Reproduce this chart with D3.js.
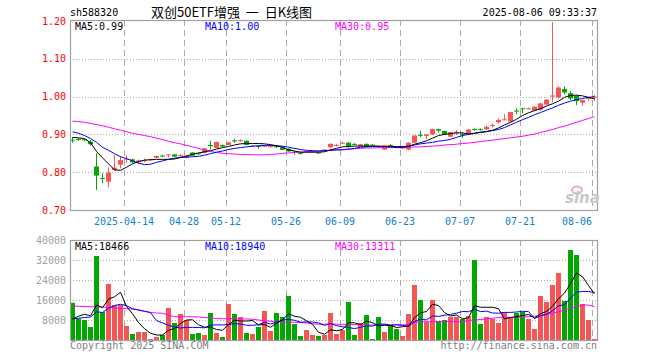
<!DOCTYPE html>
<html>
<head>
<meta charset="utf-8">
<script src="https://cdn.jsdelivr.net/npm/d3@7"></script>
<style>
  body { margin: 0; background: #fff; }
  text { font-family: "DejaVu Sans Mono", monospace; font-size: 10px; }
</style>
</head>
<body>
<div id="kline"></div>
<script>
// trading days shown (88 bars)
const dates = [
  '2025-03-31','2025-04-01','2025-04-02','2025-04-03','2025-04-07','2025-04-08','2025-04-09','2025-04-10','2025-04-11',
  '2025-04-14','2025-04-15','2025-04-16','2025-04-17','2025-04-18','2025-04-21','2025-04-22','2025-04-23','2025-04-24','2025-04-25',
  '2025-04-28','2025-04-29','2025-04-30','2025-05-06','2025-05-07','2025-05-08','2025-05-09',
  '2025-05-12','2025-05-13','2025-05-14','2025-05-15','2025-05-16','2025-05-19','2025-05-20','2025-05-21','2025-05-22','2025-05-23',
  '2025-05-26','2025-05-27','2025-05-28','2025-05-29','2025-05-30','2025-06-03','2025-06-04','2025-06-05','2025-06-06',
  '2025-06-09','2025-06-10','2025-06-11','2025-06-12','2025-06-13','2025-06-16','2025-06-17','2025-06-18','2025-06-19','2025-06-20',
  '2025-06-23','2025-06-24','2025-06-25','2025-06-26','2025-06-27','2025-06-30','2025-07-01','2025-07-02','2025-07-03','2025-07-04',
  '2025-07-07','2025-07-08','2025-07-09','2025-07-10','2025-07-11','2025-07-14','2025-07-15','2025-07-16','2025-07-17','2025-07-18',
  '2025-07-21','2025-07-22','2025-07-23','2025-07-24','2025-07-25','2025-07-28','2025-07-29','2025-07-30','2025-07-31',
  '2025-08-01','2025-08-04','2025-08-05','2025-08-06'
];
const open = [
  0.886,0.888,0.887,0.881,0.815,0.785,0.775,0.806,0.820,
  0.833,0.834,0.827,0.831,0.832,0.838,0.844,0.846,0.847,0.844,
  0.838,0.852,0.850,0.851,0.872,0.864,0.872,
  0.872,0.884,0.884,0.883,0.869,0.869,0.869,0.867,0.869,0.866,
  0.862,0.854,0.851,0.853,0.854,0.852,0.856,0.866,0.871,
  0.877,0.878,0.875,0.869,0.875,0.873,0.869,0.860,0.872,0.867,
  0.863,0.860,0.878,0.899,0.896,0.900,0.914,0.909,0.894,0.906,
  0.901,0.900,0.914,0.914,0.913,0.924,0.932,0.939,0.934,0.963,
  0.969,0.968,0.963,0.965,0.979,1.000,0.998,1.020,1.009,
  1.002,0.984,0.996,0.999
];
const close = [
  0.884,0.887,0.886,0.874,0.791,0.784,0.799,0.812,0.832,
  0.836,0.826,0.831,0.832,0.834,0.843,0.843,0.847,0.841,0.845,
  0.843,0.844,0.849,0.863,0.869,0.880,0.868,
  0.879,0.883,0.885,0.872,0.870,0.868,0.870,0.869,0.868,0.859,
  0.855,0.853,0.850,0.856,0.855,0.851,0.860,0.875,0.872,
  0.878,0.868,0.874,0.874,0.868,0.872,0.868,0.871,0.871,0.866,
  0.866,0.878,0.897,0.898,0.900,0.914,0.910,0.900,0.906,0.907,
  0.899,0.913,0.913,0.913,0.920,0.925,0.938,0.940,0.959,0.962,
  0.968,0.969,0.973,0.982,0.992,1.003,1.024,1.011,0.995,
  0.988,0.991,0.997,1.000
];
const high = [
  0.892,0.890,0.889,0.885,0.850,0.797,0.813,0.845,0.841,
  0.845,0.836,0.833,0.836,0.836,0.844,0.846,0.848,0.848,0.848,
  0.844,0.853,0.852,0.864,0.883,0.881,0.874,
  0.880,0.888,0.887,0.884,0.872,0.872,0.872,0.870,0.871,0.867,
  0.863,0.857,0.853,0.857,0.857,0.854,0.861,0.876,0.875,
  0.880,0.880,0.877,0.875,0.876,0.874,0.871,0.872,0.875,0.869,
  0.867,0.879,0.898,0.910,0.901,0.915,0.915,0.910,0.907,0.911,
  0.905,0.914,0.916,0.916,0.924,0.929,0.942,0.953,0.960,0.969,
  0.971,0.971,0.975,0.984,0.993,1.197,1.027,1.027,1.015,
  1.003,0.992,0.998,1.004
];
const low = [
  0.878,0.883,0.882,0.870,0.753,0.771,0.760,0.804,0.810,
  0.825,0.824,0.821,0.826,0.830,0.837,0.840,0.839,0.840,0.841,
  0.836,0.843,0.846,0.850,0.860,0.863,0.866,
  0.871,0.878,0.881,0.871,0.867,0.862,0.867,0.865,0.864,0.858,
  0.854,0.846,0.847,0.852,0.852,0.849,0.855,0.864,0.868,
  0.875,0.863,0.871,0.868,0.867,0.870,0.864,0.859,0.869,0.865,
  0.862,0.858,0.877,0.892,0.888,0.899,0.905,0.899,0.893,0.899,
  0.891,0.899,0.910,0.910,0.912,0.919,0.929,0.939,0.933,0.953,
  0.956,0.967,0.961,0.963,0.978,0.985,0.995,1.006,0.991,
  0.978,0.976,0.988,0.989
];
const volume = [
  14900,8500,8000,5200,33600,11200,22400,14000,14000,
  5600,2400,3200,3200,400,1200,2000,12800,6800,10400,
  8000,2400,2800,2000,10800,2800,1200,
  14400,10400,9200,2800,2400,5200,11600,3600,10800,9200,
  17600,6400,1600,4000,2000,1600,2000,10800,2400,
  4000,15200,2000,6800,10000,400,9200,3200,6000,4400,
  1600,10400,22000,16000,7200,16000,7600,8000,9200,9200,
  8400,9600,32000,6400,9200,8400,6800,11200,9200,10800,
  11200,8400,4400,17600,15200,22000,26800,15600,36000,
  34000,14400,8000,400
];
// moving averages as drawn on the chart
const ma5 = [
  0.892,0.891,0.889,0.878,0.855,0.838,0.822,0.806,0.805,
  0.813,0.822,0.828,0.832,0.833,0.834,0.834,0.834,0.835,0.839,
  0.843,0.847,0.851,0.854,0.857,0.861,0.865,
  0.868,0.872,0.875,0.876,0.876,0.876,0.875,0.873,0.870,0.866,
  0.859,0.856,0.853,0.853,0.853,0.853,0.854,0.859,0.863,
  0.867,0.868,0.869,0.869,0.869,0.869,0.869,0.868,0.867,0.866,
  0.866,0.868,0.874,0.878,0.883,0.890,0.897,0.900,0.902,0.904,
  0.904,0.901,0.903,0.905,0.907,0.911,0.917,0.925,0.932,0.940,
  0.950,0.957,0.963,0.968,0.975,0.981,0.988,0.998,1.003,
  1.004,1.002,0.998,0.994
];
const ma10 = [
  0.907,0.903,0.897,0.889,0.879,0.866,0.858,0.849,0.841,
  0.836,0.830,0.824,0.820,0.821,0.826,0.830,0.834,0.837,0.839,
  0.840,0.841,0.842,0.845,0.849,0.853,0.856,
  0.860,0.863,0.865,0.867,0.869,0.870,0.871,0.871,0.870,0.869,
  0.866,0.863,0.860,0.858,0.857,0.856,0.857,0.858,0.859,
  0.859,0.861,0.863,0.866,0.867,0.868,0.868,0.868,0.868,0.868,
  0.868,0.869,0.872,0.875,0.877,0.879,0.882,0.884,0.887,0.892,
  0.897,0.900,0.903,0.906,0.908,0.910,0.913,0.918,0.925,0.932,
  0.939,0.945,0.952,0.958,0.964,0.970,0.977,0.983,0.988,
  0.992,0.995,0.998,1.000
];
const ma30 = [
  0.935,0.934,0.932,0.929,0.926,0.923,0.919,0.915,0.911,
  0.907,0.903,0.900,0.897,0.894,0.890,0.886,0.882,0.878,0.875,
  0.871,0.867,0.863,0.859,0.855,0.852,0.850,
  0.849,0.848,0.847,0.847,0.846,0.846,0.846,0.847,0.848,0.850,
  0.851,0.852,0.853,0.854,0.855,0.856,0.857,0.858,0.859,
  0.860,0.861,0.862,0.863,0.864,0.864,0.865,0.865,0.865,0.865,
  0.865,0.866,0.867,0.867,0.868,0.869,0.870,0.872,0.873,0.874,
  0.876,0.877,0.879,0.881,0.883,0.885,0.887,0.889,0.891,0.893,
  0.895,0.898,0.901,0.905,0.909,0.913,0.918,0.922,0.927,
  0.932,0.937,0.942,0.947
];
const vma5 = [
  8400,9500,10300,9700,14000,12900,16400,17300,19100,
  13400,10500,7000,4500,2700,2000,2000,3900,4600,6600,
  8000,8100,6100,5100,5200,4200,3900,
  6200,7900,7600,7600,7800,6000,6200,5100,6700,8100,
  10500,9500,9100,7700,6300,3100,2300,4100,3700,
  4200,6900,6900,6100,7600,6900,5700,5900,5800,5000,
  5300,5600,8900,10900,11400,14300,13800,11000,9600,10000,
  8500,8900,13700,13100,13100,13100,12500,8400,9000,9300,
  9800,10200,8800,10500,11400,13500,16500,18800,22500,
  26800,25300,21800,18466
];
const vma10 = [
  8400,8700,9000,9200,11300,11000,12700,13800,14300,
  13740,12490,11960,11480,11000,7760,6840,5880,5160,4800,
  5040,5040,5000,4880,5920,6080,6000,
  6160,6520,6400,5880,5880,6120,7080,6360,7160,7960,
  8280,7880,7120,7240,7200,6840,5880,6600,5760,
  5240,5000,4560,5080,5680,5520,6280,6400,5920,6120,
  5880,5400,7400,8320,8040,9600,9440,9920,10240,10720,
  11400,11320,12320,11360,11560,10800,10720,11040,11040,11200,
  11480,11360,8600,9720,10320,11680,13680,14120,16800,
  19120,19440,19400,18940
];
const vma30 = [
  13600,13500,13400,13300,13300,13200,13100,12900,12700,
  12500,12400,12100,11500,11000,10800,10700,10000,9300,9300,
  9300,9300,9200,9000,8800,8600,8500,
  8500,8500,8450,8400,8300,8000,7700,7500,7400,7200,
  7100,7100,7000,6800,6500,6300,6300,6400,6300,
  6300,6300,6200,6100,6000,6000,6000,6000,6000,6000,
  6000,6270,7100,7200,7330,7330,7330,7330,7330,7330,
  7330,7800,8000,8200,8400,8700,9000,9070,9070,9070,
  9200,9330,9500,9700,10200,10670,11330,12000,12700,
  13330,14000,14000,13311
];

const tickDates = ['2025-04-14','2025-04-28','2025-05-12','2025-05-26','2025-06-09','2025-06-23','2025-07-07','2025-07-21','2025-08-06'];
const tickLabels = ['2025-04-14','04-28','05-12','05-26','06-09','06-23','07-07','07-21','08-06'];
const priceTicks = [0.70, 0.80, 0.90, 1.00, 1.10, 1.20];
const volTicks = [8000, 16000, 24000, 32000, 40000];

const RED = '#f55555', GREEN = '#00a800', GRID = '#aaaaaa', BORDER = '#a0a0a0';

const svg = d3.select('#kline')
  .append('svg')
    .attr('width', 660)
    .attr('height', 360);

const left = 70, right = 598;
const pTop = 20, pBottom = 210;
const vTop = 240, vBottom = 340;

const x = d3.scaleBand()
  .domain(dates)
  .range([left, right]);
const bw = x.bandwidth();

const y = d3.scaleLinear()
  .domain([0.70, 1.20])
  .range([pBottom, pTop + 1]);

const yv = d3.scaleLinear()
  .domain([0, 40000])
  .range([vBottom, vTop]);

const cx = d => x(d) + (bw - 1) / 2;

// ---- grids ----
svg.append('g').selectAll('line')
  .data(priceTicks.filter(t => t > 0.7 && t < 1.2))
  .enter().append('line')
    .attr('x1', left).attr('x2', right)
    .attr('y1', d => Math.round(y(d)) + 0.5).attr('y2', d => Math.round(y(d)) + 0.5)
    .attr('stroke', GRID).attr('stroke-dasharray', '1,2');

svg.append('g').selectAll('line')
  .data(volTicks.filter(t => t < 40000))
  .enter().append('line')
    .attr('x1', left).attr('x2', right)
    .attr('y1', d => Math.round(yv(d)) + 0.5).attr('y2', d => Math.round(yv(d)) + 0.5)
    .attr('stroke', GRID).attr('stroke-dasharray', '1,2');

[[pTop, pBottom], [vTop, vBottom]].forEach(([t, b]) => {
  svg.append('g').selectAll('line')
    .data(tickDates)
    .enter().append('line')
      .attr('x1', d => x(d) + 0.5).attr('x2', d => x(d) + 0.5)
      .attr('y1', t).attr('y2', b)
      .attr('stroke', GRID).attr('stroke-dasharray', '6,4');
});

// ---- axis labels ----
svg.append('g').selectAll('text')
  .data(priceTicks)
  .enter().append('text')
    .attr('x', left - 4)
    .attr('y', d => y(d))
    .attr('dy', '0.35em')
    .attr('text-anchor', 'end')
    .attr('fill', '#ff0000')
    .text(d => d.toFixed(2));

svg.append('g').selectAll('text')
  .data(volTicks)
  .enter().append('text')
    .attr('x', left - 4)
    .attr('y', d => yv(d))
    .attr('dy', '0.35em')
    .attr('text-anchor', 'end')
    .attr('fill', '#a0a0a0')
    .text(d => d);

svg.append('g').selectAll('text')
  .data(tickDates)
  .enter().append('text')
    .attr('x', d => x(d))
    .attr('y', 225)
    .attr('text-anchor', (d, i) => i === tickDates.length - 1 ? 'end' : 'middle')
    .attr('fill', '#1080d0')
    .text((d, i) => tickLabels[i]);

// ---- volume bars ----
svg.append('g').selectAll('rect')
  .data(dates)
  .enter().append('rect')
    .attr('x', d => x(d))
    .attr('width', bw - 1)
    .attr('y', (d, i) => yv(volume[i]))
    .attr('height', (d, i) => vBottom - yv(volume[i]))
    .attr('fill', (d, i) => close[i] >= open[i] ? RED : GREEN);

// ---- candles ----
const candles = svg.append('g');
candles.selectAll('line')
  .data(dates)
  .enter().append('line')
    .attr('x1', cx).attr('x2', cx)
    .attr('y1', (d, i) => y(high[i]))
    .attr('y2', (d, i) => y(low[i]))
    .attr('stroke', (d, i) => close[i] >= open[i] ? RED : GREEN);

candles.selectAll('rect')
  .data(dates)
  .enter().append('rect')
    .attr('x', d => x(d))
    .attr('width', bw - 1)
    .attr('y', (d, i) => y(Math.max(open[i], close[i])))
    .attr('height', (d, i) => Math.max(1, Math.abs(y(open[i]) - y(close[i]))))
    .attr('fill', (d, i) => close[i] >= open[i] ? RED : GREEN);

// ---- MA lines ----
const drawLine = (vals, scale, color) => {
  const line = d3.line()
    .x((d, i) => cx(dates[i]))
    .y(d => scale(d));
  svg.append('path')
    .attr('d', line(vals))
    .attr('fill', 'none')
    .attr('stroke', color)
    .attr('stroke-width', 1);
};
drawLine(ma30, y, '#ff00ff');
drawLine(ma10, y, '#0000ff');
drawLine(ma5, y, '#000000');
drawLine(vma30, yv, '#ff00ff');
drawLine(vma10, yv, '#0000ff');
drawLine(vma5, yv, '#000000');

// ---- borders ----
svg.append('rect')
  .attr('x', left + 0.5).attr('y', pTop + 0.5)
  .attr('width', right - left - 1).attr('height', pBottom - pTop)
  .attr('fill', 'none').attr('stroke', BORDER).attr('stroke-width', 1.2);
svg.append('rect')
  .attr('x', left + 0.5).attr('y', vTop + 0.5)
  .attr('width', right - left - 1).attr('height', vBottom - vTop)
  .attr('fill', 'none').attr('stroke', BORDER).attr('stroke-width', 1.2);

// ---- legends ----
const legend = (yy, items) => {
  items.forEach(([tx, xx, color]) => {
    svg.append('text').attr('x', xx).attr('y', yy).attr('fill', color).text(tx);
  });
};
legend(30, [
  ['MA5:' + ma5[ma5.length - 1].toFixed(2), 75, '#000'],
  ['MA10:' + ma10[ma10.length - 1].toFixed(2), 205, '#0000ff'],
  ['MA30:' + ma30[ma30.length - 1].toFixed(2), 335, '#ff00ff']
]);
legend(250, [
  ['MA5:' + vma5[vma5.length - 1], 75, '#000'],
  ['MA10:' + vma10[vma10.length - 1], 205, '#0000ff'],
  ['MA30:' + vma30[vma30.length - 1], 335, '#ff00ff']
]);

// ---- header / footer ----
svg.append('text').attr('x', 70).attr('y', 16).attr('fill', '#000').text('sh588320');
svg.append('text').attr('x', 151).attr('y', 17).attr('fill', '#000')
  .attr('xml:space', 'preserve')
  .style('font-family', '"Noto Sans CJK SC", sans-serif').style('font-size', '13px')
  .style('white-space', 'pre')
  .text('双创50ETF增强  一  日K线图');
svg.append('text').attr('x', 597).attr('y', 16).attr('text-anchor', 'end').attr('fill', '#000')
  .text('2025-08-06 09:33:37');
svg.append('text').attr('x', 70).attr('y', 349).attr('fill', '#808080').text('Copyright 2025 SINA.COM');
svg.append('text').attr('x', 597).attr('y', 349).attr('text-anchor', 'end').attr('fill', '#808080')
  .text('http://finance.sina.com.cn');

// sina watermark
svg.append('ellipse').attr('cx', 577).attr('cy', 190).attr('rx', 5).attr('ry', 3.5)
  .attr('fill', 'none').attr('stroke', '#e8b0b0').attr('stroke-width', 2);
svg.append('text').attr('x', 565).attr('y', 203)
  .style('font-family', '"DejaVu Sans", sans-serif').style('font-size', '15px')
  .style('font-weight', 'bold').style('font-style', 'italic')
  .attr('fill', '#c8c8c8').text('sina');
</script>
</body>
</html>
